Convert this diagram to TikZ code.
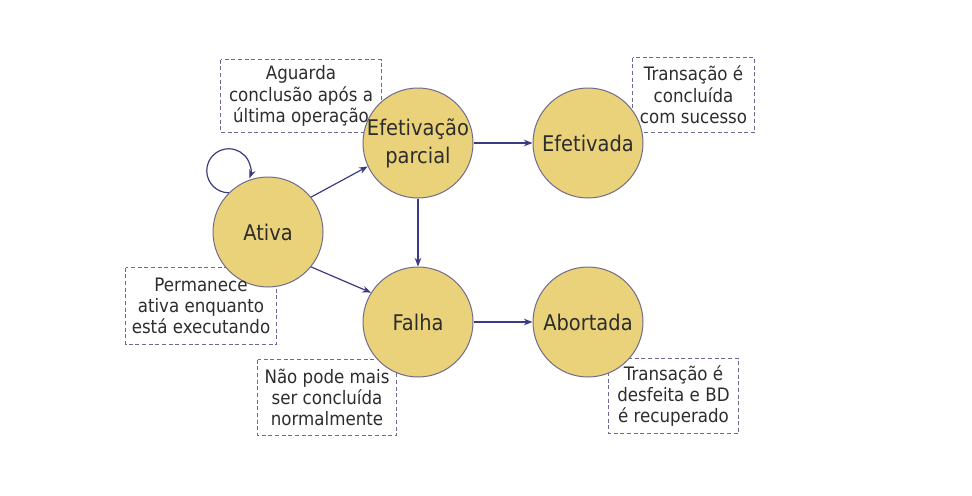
\documentclass[tikz,border=0pt]{standalone}
\usepackage{fontspec}
\setmainfont{DejaVu Sans}[FakeStretch=0.9]
\usetikzlibrary{arrows.meta,backgrounds}
\definecolor{statefill}{RGB}{234,210,122}
\definecolor{stateline}{RGB}{112,106,140}
\definecolor{arrowcol}{RGB}{60,58,128}
\definecolor{notecol}{RGB}{110,104,150}
\definecolor{textcol}{RGB}{45,45,45}
\tikzset{every picture/.style={line width=0.75pt}}
\tikzset{
  state/.style={circle, draw=stateline, fill=statefill, minimum size=82.5pt, inner sep=0pt,
    align=center, text=textcol, font=\fontsize{16.2}{21}\selectfont},
  note/.style={align=center, inner sep=0pt, text=textcol, font=\fontsize{13.9}{16}\selectfont},
  notebox/.style={draw=notecol, dash pattern=on 3pt off 2pt},
  arr/.style={draw=arrowcol, line width=0.9pt, -{Stealth[length=6.5pt,width=5pt]}},
}

\begin{document}
\begin{tikzpicture}[x=0.75pt,y=0.75pt,yscale=-1,xscale=1]
\useasboundingbox (0,0) rectangle (972,496);

% States
\node[state] (ativa) at (268,232) {Ativa};
\node[state, inner sep=-2.5pt] (parcial) at (418,143) {Efetivação\\parcial};
\node[state] (efetivada) at (588,143) {Efetivada};
\node[state] (falha) at (418,322) {Falha};
\node[state] (abortada) at (588,322) {Abortada};

% Transitions
\draw[arr] (ativa.135) arc[start angle=90, end angle=380, radius=22];
\draw[arr] (ativa.39) -- (parcial.-155);
\draw[arr] (ativa.-39) -- (falha.148);
\draw[arr] (parcial) -- (efetivada);
\draw[arr] (parcial) -- (falha);
\draw[arr] (falha) -- (abortada);

% Notes
\node[note, minimum width=160*0.75pt, minimum height=72*0.75pt] (aguarda) at (301,96) {Aguarda\\conclusão após a\\última operação};
\node[note, minimum width=150*0.75pt, minimum height=76*0.75pt] (permanece) at (201,306) {Permanece\\ativa enquanto\\está executando};
\node[note, minimum width=138*0.75pt, minimum height=75*0.75pt] (naopode) at (327,397.5) {Não pode mais\\ser concluída\\normalmente};
\node[note, minimum width=121*0.75pt, minimum height=74*0.75pt] (concluida) at (693.5,95) {Transação é\\ concluída\\com sucesso};
\node[note, minimum width=129*0.75pt, minimum height=74*0.75pt] (desfeita) at (673.5,396) {Transação é\\desfeita e BD\\é recuperado};

\begin{scope}[on background layer]
\foreach \n in {aguarda,permanece,naopode,concluida,desfeita}
  \draw[notebox] (\n.north west) rectangle (\n.south east);
\end{scope}
\end{tikzpicture}
\end{document}
